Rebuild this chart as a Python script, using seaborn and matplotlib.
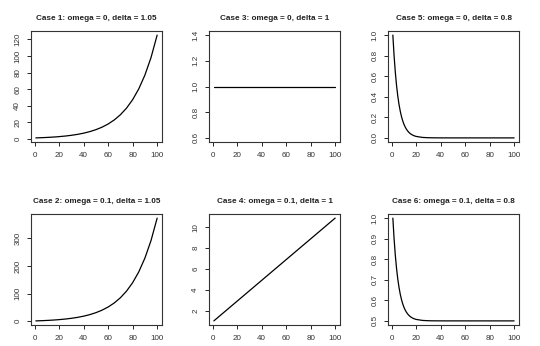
import matplotlib
matplotlib.use("Agg")
import matplotlib.pyplot as plt
import seaborn as sns
import numpy as np

# ---- data ----
t_curve = [1, 2, 3, 4, 5, 6, 7, 8, 9, 10, 11, 12, 13, 14, 15, 16, 17, 18, 19, 20,
           25, 30, 35, 40, 45, 50, 55, 60, 65, 70, 75, 80, 85, 90, 95, 100]

case1 = [1.000, 1.050, 1.1025, 1.1576, 1.2155, 1.2763, 1.3401, 1.4071, 1.4775, 1.5513,
         1.6289, 1.7103, 1.7959, 1.8856, 1.9799, 2.0789, 2.1829, 2.2920, 2.4066, 2.5270,
         3.2251, 4.1161, 5.2533, 6.7048, 8.5572, 10.9213, 13.9387, 17.7897, 22.7047,
         28.9774, 36.9832, 47.2010, 60.2418, 76.8857, 98.1288, 125.2392]

case2 = [1.000, 1.150, 1.3075, 1.4729, 1.6465, 1.8289, 2.0203, 2.2213, 2.4324, 2.6540,
         2.8867, 3.1310, 3.3876, 3.6569, 3.9398, 4.2368, 4.5486, 4.8761, 5.2199, 5.5809,
         7.6753, 10.3484, 13.7600, 18.1143, 23.6715, 30.7640, 39.8161, 51.3692, 66.1140,
         84.9320, 108.9496, 139.6030, 178.7254, 228.6571, 292.3863, 373.7177]

case5 = [1.0, 0.8, 0.64, 0.512, 0.4096, 0.32768, 0.262144, 0.209715, 0.167772, 0.134218,
         0.107374, 0.085899, 0.068719, 0.054976, 0.043980, 0.035184, 0.028147, 0.022518,
         0.018014, 0.014412, 0.004722, 0.001547, 0.000507, 0.000166, 0.000054, 0.000018,
         0.000006, 0.000002, 0.000001, 0.0, 0.0, 0.0, 0.0, 0.0, 0.0, 0.0]

case6 = [1.0, 0.9, 0.82, 0.756, 0.7048, 0.66384, 0.631072, 0.604858, 0.583886, 0.567109,
         0.553687, 0.542950, 0.534360, 0.527488, 0.521990, 0.517592, 0.514074, 0.511259,
         0.509007, 0.507206, 0.502361, 0.500774, 0.500254, 0.500083, 0.500027, 0.500009,
         0.500003, 0.500001, 0.5, 0.5, 0.5, 0.5, 0.5, 0.5, 0.5, 0.5]

t_line = [1, 100]
case3 = [1.0, 1.0]
case4 = [1.0, 10.9]

titles = ["Case 1: omega = 0, delta = 1.05", "Case 3: omega = 0, delta = 1",
          "Case 5: omega = 0, delta = 0.8", "Case 2: omega = 0.1, delta = 1.05",
          "Case 4: omega = 0.1, delta = 1", "Case 6: omega = 0.1, delta = 0.8"]

x_ticks = [0, 20, 40, 60, 80, 100]
y_ticks = {
    0: [0, 20, 40, 60, 80, 100, 120],
    1: [0.6, 0.8, 1.0, 1.2, 1.4],
    2: [0.0, 0.2, 0.4, 0.6, 0.8, 1.0],
    3: [0, 100, 200, 300],
    4: [2, 4, 6, 8, 10],
    5: [0.5, 0.6, 0.7, 0.8, 0.9, 1.0],
}
y_fmt = {0: "{:.0f}", 1: "{:.1f}", 2: "{:.1f}", 3: "{:.0f}", 4: "{:.0f}", 5: "{:.1f}"}
ylims_raw = {1: (0.6, 1.4)}

series = [(t_curve, case1), (t_line, case3), (t_curve, case5),
          (t_curve, case2), (t_line, case4), (t_curve, case6)]

# ---- drawing ----
sns.set_style("white")
plt.rcParams["font.family"] = ["Liberation Sans", "DejaVu Sans"]

W, H = 540, 346
fig = plt.figure(figsize=(W / 100, H / 100), dpi=100)
fig.patch.set_facecolor("white")

lefts = [31, 209, 388]
widths = [131, 131, 131]
tops = [31, 214]
heights = [111, 111]

for i, (xs, ys) in enumerate(series):
    r, c = divmod(i, 3)
    l, w = lefts[c], widths[c]
    tp, h = tops[r], heights[r]
    ax = fig.add_axes([l / W, 1 - (tp + h) / H, w / W, h / H])
    sns.lineplot(x=xs, y=ys, ax=ax, color="black", linewidth=0.9, estimator=None)
    pad = 0.04 * (100 - 1)
    ax.set_xlim(1 - pad, 100 + pad)
    if i in ylims_raw:
        lo, hi = ylims_raw[i]
    else:
        lo, hi = min(ys), max(ys)
    yp = 0.04 * (hi - lo)
    ax.set_ylim(lo - yp, hi + yp)
    ax.set_xticks(x_ticks)
    ax.set_xticklabels([str(v) for v in x_ticks])
    ax.set_yticks(y_ticks[i])
    ax.set_yticklabels([y_fmt[i].format(v) for v in y_ticks[i]], rotation=90, va="center")
    ax.tick_params(axis="both", direction="out", length=3.0, width=0.6,
                   color="black", labelsize=5.8, labelcolor="#333333")
    ax.tick_params(axis="x", pad=4.3)
    ax.tick_params(axis="y", pad=4.0)
    ax.tick_params(bottom=True, left=True, top=False, right=False)
    for s in ax.spines.values():
        s.set_visible(True)
        s.set_color("#333333")
        s.set_linewidth(0.8)
    ax.set_title(titles[i], fontsize=5.9, fontweight="bold", pad=8, color="#222222")
    ax.set_xlabel("")
    ax.set_ylabel("")
    ax.grid(False)

fig.savefig("out.png", dpi=100, facecolor="white")
